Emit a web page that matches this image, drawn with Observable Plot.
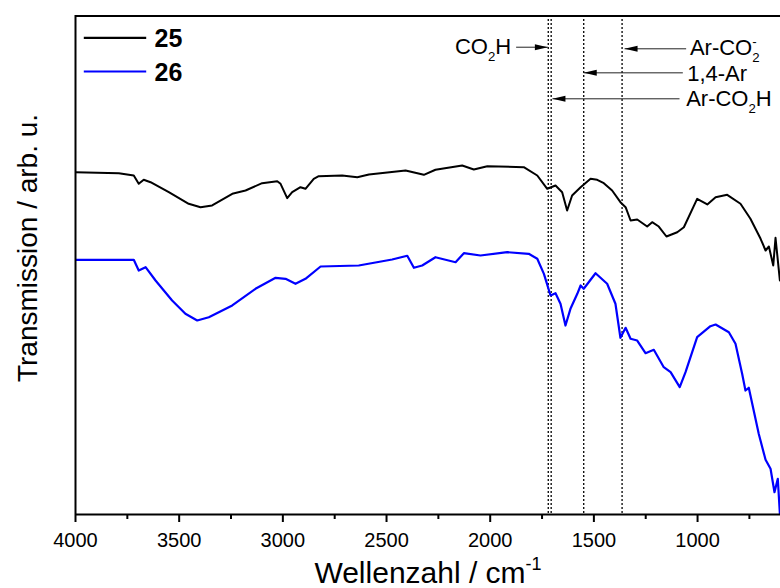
<!DOCTYPE html>
<html><head><meta charset="utf-8">
<script src="https://cdn.jsdelivr.net/npm/d3@7"></script>
<script src="https://cdn.jsdelivr.net/npm/@observablehq/plot@0.6"></script>
<style>body{margin:0;background:#fff}</style>
</head><body><div id="chart"></div>
<script>
// Series 25 (black)
const wn25 = [4000,3791,3719,3695,3671,3638,3550,3454,3397,3341,3244,3180,3100,3027,3011,2979,2955,2915,2891,2851,2827,2714,2641,2585,2408,2320,2264,2135,2079,2014,1838,1773,1725,1685,1653,1629,1605,1564,1516,1484,1452,1412,1372,1347,1323,1291,1243,1219,1187,1150,1098,1066,1002,953,913,857,793,745,696,672,656,635,624,603];
const t25 = [68.67,68.47,68.0,66.34,67.14,66.66,64.65,62.33,61.64,61.99,64.33,65.0,66.46,66.86,66.34,63.45,64.65,65.66,65.34,67.34,67.86,68.0,67.66,68.2,69.0,68.14,69.15,70.01,69.21,69.87,69.67,68.0,65.34,66.0,64.65,60.98,63.99,65.66,67.34,67.14,66.46,65.0,62.65,61.64,58.98,59.18,57.77,58.64,57.77,55.77,56.63,57.63,63.33,62.19,63.65,64.13,62.33,59.32,55.31,52.96,53.76,49.95,55.51,46.94];
// Series 26 (blue)
const wn26 = [4000,3719,3695,3662,3614,3534,3470,3413,3357,3244,3132,3035,2987,2939,2891,2818,2634,2473,2400,2368,2328,2264,2167,2127,2047,1918,1814,1773,1741,1709,1685,1661,1637,1613,1580,1564,1549,1492,1436,1396,1372,1347,1323,1291,1251,1211,1163,1130,1086,1058,1002,938,913,849,817,785,769,753,705,672,648,629,613,603];
const t26 = [51.09,51.09,48.95,49.61,46.94,42.93,40.26,38.92,39.58,41.93,45.28,47.48,47.28,46.28,47.28,49.75,49.95,51.15,51.9,49.49,49.95,51.61,50.61,52.42,51.96,52.62,52.3,51.29,48.28,43.93,44.39,42.27,37.91,41.26,44.27,45.94,45.28,48.4,46.28,42.27,35.45,37.45,35.25,34.9,32.36,33.04,29.55,28.55,25.54,28.55,35.57,37.77,38.11,36.57,34.24,28.22,24.87,25.42,16.19,10.97,9.17,4.47,7.16,0.14];

const seriesNames = ["25", "26"];
const seriesColors = ["#000000", "#0000ff"];

// Vertical reference lines (cm^-1)
const markerLines = [1720, 1706, 1549, 1364];

// Axis ticks
const majorTicks = [4000, 3500, 3000, 2500, 2000, 1500, 1000];
const minorTicks = [3750, 3250, 2750, 2250, 1750, 1250, 750];

// Annotations
const annLabels = ["CO_{2}H", "Ar-CO_{2}^{-}", "1,4-Ar", "Ar-CO_{2}H"];
const annTextX = [1899, 1037, 1050, 1055];
const annTextY = [92.28, 92.08, 86.92, 81.85];
const annAnchor = ["end", "start", "start", "start"];
const arrowFrom = [1875, 1055, 1071, 1087];
const arrowTo = [1722, 1352, 1549, 1700];
const arrowY = [93.74, 93.42, 88.6, 83.39];

// Legend placement (data coordinates)
const legendX1 = 3960, legendX2 = 3659, legendTextX = 3619;
const legendLineY = [95.63, 88.87];
const legendTextY = [93.74, 87.06];

const xLabel = "Wellenzahl / cm^{-1}";
const yLabel = "Transmission / arb. u.";

const s25 = wn25.map((w, i) => ({w, t: t25[i]}));
const s26 = wn26.map((w, i) => ({w, t: t26[i]}));
// arrowTo < arrowFrom (wavenumber) means the head points right on screen
const arrows = annLabels.map((l, i) => ({x1: arrowFrom[i], x2: arrowTo[i], y: arrowY[i], right: arrowTo[i] < arrowFrom[i]}));
const anns = annLabels.map((l, i) => ({l, x: annTextX[i], y: annTextY[i], a: annAnchor[i]}));
const legend = seriesNames.map((n, i) => ({n, c: seriesColors[i], ly: legendLineY[i], ty: legendTextY[i]}));

const headRight = {draw(ctx) { ctx.moveTo(0, 0); ctx.lineTo(-13, -3); ctx.lineTo(-13, 3); ctx.closePath(); }};
const headLeft = {draw(ctx) { ctx.moveTo(0, 0); ctx.lineTo(13, -3); ctx.lineTo(13, 3); ctx.closePath(); }};

const plot = Plot.plot({
  width: 780,
  height: 588,
  marginLeft: 75,
  marginRight: 0,
  marginTop: 15,
  marginBottom: 74,
  style: {fontFamily: "'Liberation Sans', Arial, sans-serif", background: "#fff", color: "#000"},
  x: {domain: [4000, 600], range: [75, 780], label: null},
  y: {domain: [0, 100], range: [514, 15.5], axis: null, label: null},
  marks: [
    Plot.ruleX(markerLines, {stroke: "#000", strokeWidth: 1.3, strokeDasharray: "2,2"}),
    Plot.line(s25, {x: "w", y: "t", stroke: seriesColors[0], strokeWidth: 2, clip: true}),
    Plot.line(s26, {x: "w", y: "t", stroke: seriesColors[1], strokeWidth: 2.2, clip: true}),
    Plot.link(arrows, {x1: "x1", x2: "x2", y1: "y", y2: "y", stroke: "#222", strokeWidth: 1}),
    Plot.dot(arrows.filter(d => d.right), {x: "x2", y: "y", symbol: headRight, fill: "#000", stroke: "none", r: 5}),
    Plot.dot(arrows.filter(d => !d.right), {x: "x2", y: "y", symbol: headLeft, fill: "#000", stroke: "none", r: 5}),
    Plot.text(anns.filter(d => d.a === "start"), {x: "x", y: "y", text: "l", textAnchor: "start", lineAnchor: "bottom", fontSize: 22, fill: "#000"}),
    Plot.text(anns.filter(d => d.a === "end"), {x: "x", y: "y", text: "l", textAnchor: "end", lineAnchor: "bottom", fontSize: 22, fill: "#000"}),
    Plot.link(legend, {x1: legendX1, x2: legendX2, y1: "ly", y2: "ly", stroke: "c", strokeWidth: 2.2}),
    Plot.text(legend, {x: legendTextX, y: "ty", text: "n", textAnchor: "start", lineAnchor: "bottom", fontSize: 25, fontWeight: "bold", fill: "#000"}),
    Plot.ruleX([4000], {strokeWidth: 2, stroke: "#000"}),
    Plot.ruleY([0, 100], {strokeWidth: 2, stroke: "#000"}),
    Plot.axisX(majorTicks, {tickSize: 8, tickPadding: 10, fontSize: 20, strokeWidth: 2, tickFormat: d3.format("d"), label: null}),
    Plot.axisX(minorTicks, {tickSize: 5, strokeWidth: 2, tickFormat: () => "", label: null}),
    Plot.text([xLabel], {frameAnchor: "bottom", dy: 68, textAnchor: "middle", lineAnchor: "bottom", fontSize: 30, fill: "#000"}),
    Plot.text([yLabel], {frameAnchor: "left", dx: -39, dy: -17, rotate: -90, textAnchor: "middle", lineAnchor: "bottom", fontSize: 28, fill: "#000"})
  ]
});

document.getElementById("chart").appendChild(plot);

// Convert _{..} and ^{..} markup into sub/superscript tspans
function richify(el) {
  const s = el.textContent;
  if (!/[_^]\{/.test(s)) return;
  const F = parseFloat(getComputedStyle(el).fontSize);
  const parts = s.match(/_\{[^}]*\}|\^\{[^}]*\}|[^_^]+/g);
  while (el.firstChild) el.removeChild(el.firstChild);
  let shift = 0, prevKind = null, prevWidth = 0;
  for (const p of parts) {
    let kind = "n", txt = p;
    if (p.startsWith("_{")) { kind = "sub"; txt = p.slice(2, -1); }
    else if (p.startsWith("^{")) { kind = "sup"; txt = p.slice(2, -1); }
    const target = kind === "sub" ? 0.28 * F : kind === "sup" ? -0.42 * F : 0;
    const t = document.createElementNS("http://www.w3.org/2000/svg", "tspan");
    t.setAttribute("dy", target - shift);
    if (kind !== "n") t.setAttribute("font-size", 0.6 * F);
    t.textContent = txt;
    el.appendChild(t);
    if (kind === "sup" && prevKind === "sub") t.setAttribute("dx", -prevWidth);
    shift = target;
    prevKind = kind;
    prevWidth = t.getComputedTextLength();
  }
}
plot.querySelectorAll("text").forEach(richify);
</script>
</body></html>
